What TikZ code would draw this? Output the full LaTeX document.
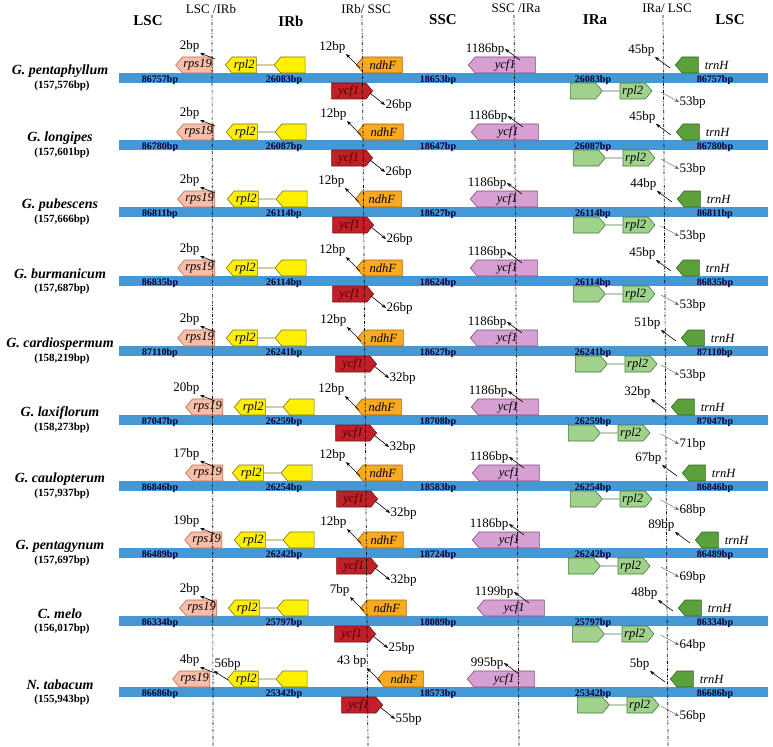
\documentclass[tikz,border=0pt]{standalone}
\usepackage{fontspec}
\setmainfont{Liberation Serif}
\usetikzlibrary{arrows.meta,positioning,shapes.symbols}
\definecolor{gsblue}{RGB}{70,152,212}
\definecolor{gsrps}{RGB}{248,190,170}
\definecolor{gsrpsd}{RGB}{185,110,80}
\definecolor{gsyel}{RGB}{255,240,0}
\definecolor{gsyeld}{RGB}{125,115,20}
\definecolor{gsndh}{RGB}{250,170,30}
\definecolor{gsndhd}{RGB}{160,100,20}
\definecolor{gsred}{RGB}{192,32,40}
\definecolor{gsredd}{RGB}{110,20,20}
\definecolor{gspink}{RGB}{215,160,210}
\definecolor{gspinkd}{RGB}{130,70,130}
\definecolor{gsgrn}{RGB}{160,210,140}
\definecolor{gsgrnd}{RGB}{70,120,60}
\definecolor{gstrn}{RGB}{92,160,60}
\definecolor{gstrnd}{RGB}{50,100,30}

\begin{document}
\begin{tikzpicture}[x=1pt,y=-1pt,
  gene/.style={signal,draw,line width=0.6pt,inner sep=0pt,minimum height=16pt,
    signal pointer angle=100,font=\fontsize{12.5}{12.5}\selectfont\itshape},
  genel/.style={gene,signal to=west},
  gener/.style={gene,signal to=east},
  bar/.style={fill=gsblue,minimum height=10pt,inner sep=0pt},
  barlbl/.style={font=\fontsize{10}{10}\selectfont\bfseries,text=black!80!blue,inner sep=0pt},
  bp/.style={font=\fontsize{13}{13}\selectfont,inner sep=0.5pt},
  spname/.style={font=\fontsize{14}{14}\selectfont\bfseries\itshape},
  gsize/.style={font=\fontsize{11}{11}\selectfont\bfseries},
  region/.style={font=\fontsize{15}{15}\selectfont\bfseries},
  junc/.style={font=\fontsize{13}{13}\selectfont},
  gtxt/.style={font=\fontsize{12.5}{12.5}\selectfont\itshape,inner sep=0pt},
  bline/.style={line width=0.7pt,dash pattern=on 3pt off 1.5pt on 0.8pt off 1.5pt},
  arr/.style={-{Stealth[length=4.5pt,width=3.5pt]},line width=0.6pt},
  garr/.style={-{Stealth[length=4.5pt,width=3.5pt]},line width=0.4pt,black!60}
]
  \path[fill=white] (0,0) rectangle (773,746);

  % region headers
  \node[region] (hLSCa) at (148,21) {LSC};
  \node[junc] (jLI) at (211,9) {LSC /IRb};
  \node[region] (hIRb) at (291,21) {IRb};
  \node[junc] (jIS) at (366,9) {IRb/ SSC};
  \node[region] (hSSC) at (443,20) {SSC};
  \node[junc] (jSI) at (516,8) {SSC /IRa};
  \node[region] (hIRa) at (595,20) {IRa};
  \node[junc] (jIL) at (667,8) {IRa/ LSC};
  \node[region] (hLSCb) at (730,20) {LSC};

  % one row per genome
  \foreach \i/\yc/\spc/\gsz/\lsc/\irl/\ssc/\rsx/\rsb/\ylx/\ndx/\ndb/\crx/\crb/\cpx/\cpb/\gnx/\gnb/\thx/\thb in {
    1/78/{G. pentaphyllum}/{(157,576bp)}/86757/26083/18653/213/2bp/225/356/12bp/373/26bp/468/1186bp/570/53bp/675/45bp,
    2/145/{G. longipes}/{(157,601bp)}/86780/26087/18647/214/2bp/226/357/12bp/373/26bp/471/1186bp/573/53bp/676/45bp,
    3/212/{G. pubescens}/{(157,666bp)}/86811/26114/18627/215/2bp/227/355/12bp/374/26bp/470/1186bp/573/53bp/677/44bp,
    4/281/{G. burmanicum}/{(157,687bp)}/86835/26114/18624/215/2bp/226/356/12bp/374/26bp/470/1186bp/573/53bp/676/45bp,
    5/351/{G. cardiospermum}/{(158,219bp)}/87110/26241/18627/215/2bp/226/357/12bp/377/32bp/470/1186bp/575/53bp/681/51bp,
    6/420/{G. laxiflorum}/{(158,273bp)}/87047/26259/18708/223/20bp/234/355/12bp/377/32bp/471/1186bp/568/71bp/671/32bp,
    7/486/{G. caulopterum}/{(157,937bp)}/86846/26254/18583/223/17bp/232/356/12bp/378/32bp/472/1186bp/570/68bp/682/67bp,
    8/553/{G. pentagynum}/{(157,697bp)}/86489/26242/18724/222/19bp/234/357/12bp/378/32bp/472/1186bp/568/69bp/695/89bp,
    9/621/{C. melo}/{(156,017bp)}/86334/25797/18089/217/2bp/228/360/7bp/376/25bp/477/1199bp/572/64bp/678/48bp,
    10/692/{N. tabacum}/{(155,943bp)}/86686/25342/18573/210/4bp/227/377/43 bp/383/55bp/467/995bp/577/56bp/670/5bp}
  {
    \node[bar,minimum width=649pt,anchor=west] (bar\i) at (119,\yc) {};
    \node[barlbl] (lscL\i) at (160,{\yc+2}) {\lsc bp};
    \node[barlbl] (irbL\i) at (284,{\yc+2}) {\irl bp};
    \node[barlbl] (sscL\i) at (438,{\yc+2}) {\ssc bp};
    \node[barlbl] (iraL\i) at (593,{\yc+2}) {\irl bp};
    \node[barlbl] (lscR\i) at (715,{\yc+2}) {\lsc bp};
    \node[spname] (sp\i) at (60,{\yc-7}) {\spc};
    \node[gsize] (gs\i) at (62,{\yc+8}) {\gsz};
    % LSC/IRb
    \node[genel,fill=gsrps,draw=gsrpsd,minimum width=37pt,anchor=east] (rps\i) at (\rsx,{\yc-13}) {rps19};
    \node[genel,fill=gsyel,draw=gsyeld,minimum width=31pt,anchor=west] (rpy\i) at (\ylx,{\yc-13}) {rpl2};
    \node[genel,fill=gsyel,draw=gsyeld,minimum width=31pt,right=17pt of rpy\i] (rpyb\i) {};
    \draw[gsyeld,line width=0.6pt] (rpy\i) -- (rpyb\i);
    \coordinate (rpsT\i) at (215,{\yc-19});
    \node[bp,anchor=south east] (rpsL\i) at (200,{\yc-25}) {\rsb};
    \draw[arr] (rpsT\i) -- (rpsL\i.south east);
    % IRb/SSC
    \node[genel,fill=gsndh,draw=gsndhd,minimum width=46pt,anchor=west] (ndh\i) at (\ndx,{\yc-13}) {ndhF};
    \node[gener,fill=gsred,draw=gsredd,text=black!70!red,minimum width=41pt,anchor=east] (ycr\i) at (\crx,{\yc+13}) {ycf1};
    \coordinate (ndhT\i) at ({\ndx+4},{\yc-10});
    \node[bp,anchor=south east] (ndhL\i) at ({\ndx-10},{\yc-24}) {\ndb};
    \draw[arr] (ndhT\i) -- (ndhL\i.south east);
    \coordinate (ycrT\i) at ({\crx-3},{\yc+15});
    \node[bp,anchor=west] (ycrL\i) at ({\crx+12},{\yc+27}) {\crb};
    \draw[arr] (ycrT\i) -- (ycrL\i.west);
    % SSC/IRa
    \node[genel,fill=gspink,draw=gspinkd,minimum width=67pt,anchor=west] (ycp\i) at (\cpx,{\yc-13}) {ycf1};
    \coordinate (ycpT\i) at ({\cpx+52},{\yc-18});
    \node[bp,anchor=east] (ycpL\i) at ({\cpx+37},{\yc-29}) {\cpb};
    \draw[arr] (ycpT\i) -- (ycpL\i.east);
    % IRa/LSC
    \node[gener,fill=gsgrn,draw=gsgrnd,minimum width=32pt,anchor=west] (rpg\i) at (\gnx,{\yc+13}) {};
    \node[gener,fill=gsgrn,draw=gsgrnd,minimum width=32pt,right=17pt of rpg\i] (rpgb\i) {rpl2};
    \draw[gsgrnd,line width=0.6pt] (rpg\i) -- (rpgb\i);
    \coordinate (rpgT\i) at (661,{\yc+14});
    \node[bp,anchor=west] (rpgL\i) at (679,{\yc+24}) {\gnb};
    \draw[garr] (rpgT\i) -- (rpgL\i.west);
    \node[genel,fill=gstrn,draw=gstrnd,minimum width=23pt,anchor=west] (trn\i) at (\thx,{\yc-13}) {};
    \node[gtxt,right=6pt of trn\i] (trnN\i) {trnH};
    \coordinate (trnT\i) at ({\thx-5},{\yc-10});
    \node[bp,anchor=south east] (trnL\i) at ({\thx-20},{\yc-21}) {\thb};
    \draw[arr] (trnT\i) -- (trnL\i.south east);
  }

  % extra rpl2 distance in N. tabacum
  \coordinate (rpyT10) at (228,680);
  \node[bp,anchor=south west] (rpyL10) at (214,671) {56bp};
  \draw[arr] (rpyT10) -- (rpyL10.south west);

  % junction lines
  \coordinate (jLIt) at (212,15);  \coordinate (jLIb) at (213,746);
  \coordinate (jISt) at (362,15);  \coordinate (jISb) at (368,746);
  \coordinate (jSIt) at (514,15);  \coordinate (jSIb) at (519,746);
  \coordinate (jILt) at (663,15);  \coordinate (jILb) at (668,746);
  \draw[bline] (jLIt) -- (jLIb);
  \draw[bline] (jISt) -- (jISb);
  \draw[bline] (jSIt) -- (jSIb);
  \draw[bline] (jILt) -- (jILb);
\end{tikzpicture}
\end{document}
